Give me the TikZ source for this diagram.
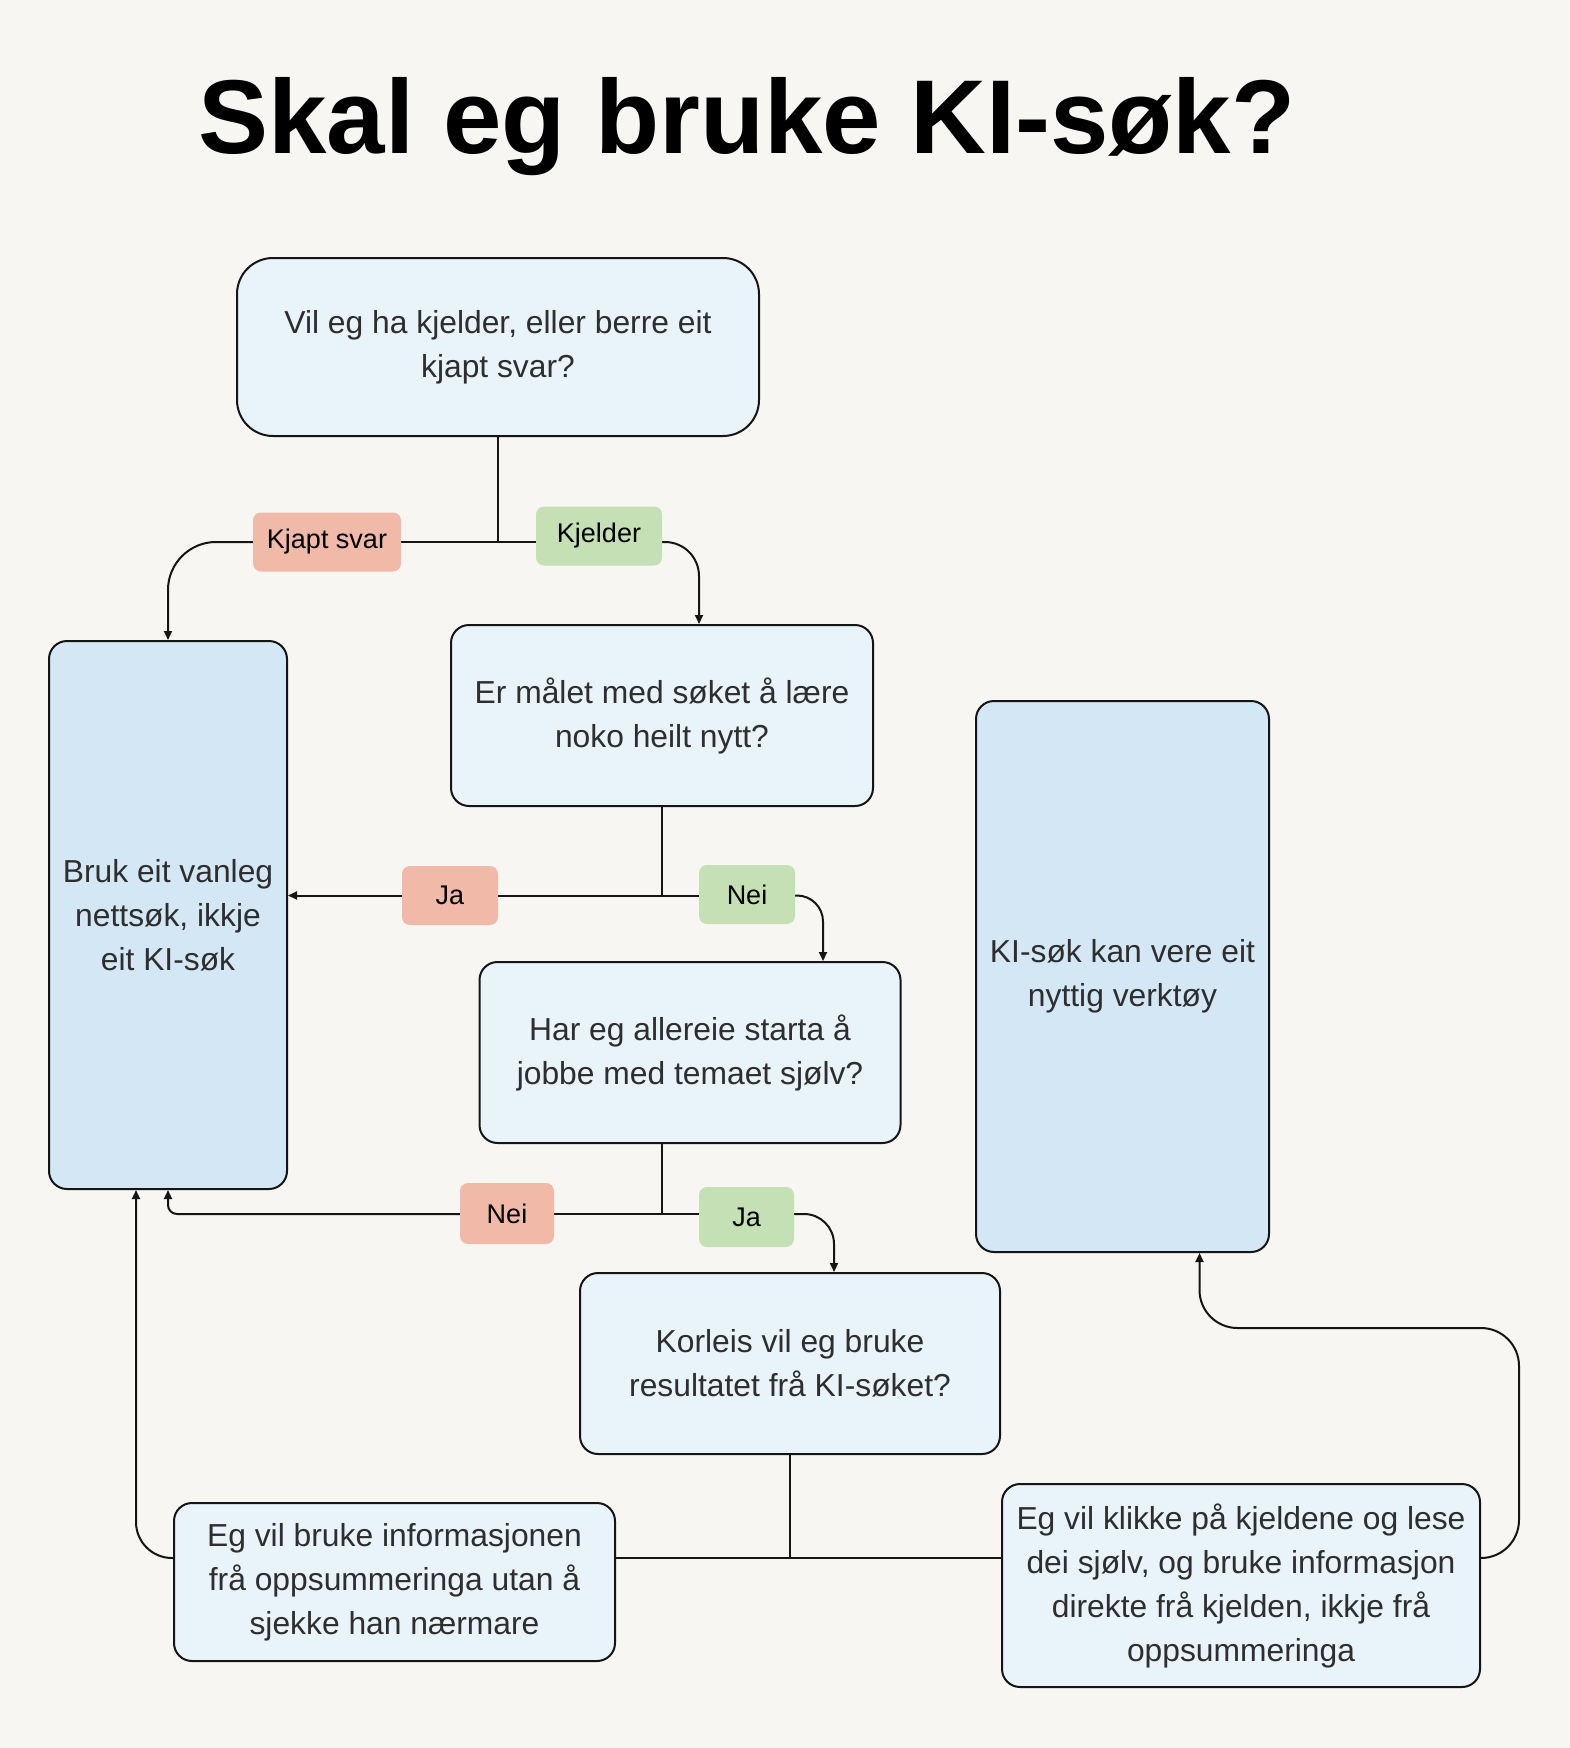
\documentclass[tikz,border=0pt]{standalone}
\usepackage{fontspec}
\setmainfont{Liberation Sans}
\usetikzlibrary{arrows.meta}
\definecolor{bgc}{HTML}{F7F6F2}
\definecolor{lightbox}{HTML}{E8F3FA}
\definecolor{darkbox}{HTML}{D3E7F5}
\definecolor{pinklbl}{HTML}{F0B9A8}
\definecolor{greenlbl}{HTML}{C5E0B4}
\definecolor{edgec}{HTML}{151515}
\definecolor{txtc}{HTML}{2E2E2E}
\pgfdeclarelayer{bglayer}
\pgfdeclarelayer{wires}
\pgfsetlayers{bglayer,wires,main}
\tikzset{
  qbox/.style={draw=edgec, line width=2pt, fill=lightbox, rounded corners=18pt,
    align=center, text=txtc, inner sep=0pt, font=\fontsize{31.8}{44}\selectfont},
  abox/.style={qbox, fill=darkbox},
  lbl/.style={rounded corners=8pt, inner sep=0pt, text=black,
    font=\fontsize{27}{30}\selectfont, minimum height=59pt},
  nolbl/.style={lbl, fill=pinklbl},
  yeslbl/.style={lbl, fill=greenlbl},
  wire/.style={draw=edgec, line width=2pt},
  arr/.style={wire, -{Triangle[length=9pt,width=8pt]}}
}
\begin{document}
\begin{tikzpicture}[x=1pt,y=-1pt]
\begin{pgfonlayer}{bglayer}
\fill[bgc] (0,0) rectangle (1570,1748);
\end{pgfonlayer}
\useasboundingbox (0,0) rectangle (1570,1748);

\node[anchor=base, font=\fontsize{105}{120}\selectfont\bfseries, text=black] (title) at (747,153) {Skal eg bruke KI-søk?};

\node[qbox, rounded corners=36pt, minimum width=522pt, minimum height=178pt] (A) at (498,347)
  {Vil eg ha kjelder, eller berre eit\\kjapt svar?};
\node[qbox, minimum width=422pt, minimum height=181pt] (B) at (662,715.5)
  {Er målet med søket å lære\\noko heilt nytt?};
\node[abox, minimum width=238pt, minimum height=548pt] (C) at (168,915)
  {Bruk eit vanleg\\nettsøk, ikkje\\eit KI-søk};
\node[qbox, minimum width=421pt, minimum height=181pt] (D) at (690,1052.5)
  {Har eg allereie starta å\\jobbe med temaet sjølv?};
\node[qbox, minimum width=420pt, minimum height=181pt] (F) at (790,1363.5)
  {Korleis vil eg bruke\\resultatet frå KI-søket?};
\node[qbox, minimum width=441pt, minimum height=158pt] (E) at (394.5,1582)
  {Eg vil bruke informasjonen\\frå oppsummeringa utan å\\sjekke han nærmare};
\node[qbox, minimum width=478pt, minimum height=203pt] (G) at (1241,1585.5)
  {Eg vil klikke på kjeldene og lese\\dei sjølv, og bruke informasjon\\direkte frå kjelden, ikkje frå\\oppsummeringa};
\node[abox, minimum width=293pt, minimum height=551pt] (H) at (1122.5,976.5)
  {KI-søk kan vere eit\\nyttig verktøy};

\node[nolbl, minimum width=148pt] (kjapt) at (327,542) {Kjapt svar};
\node[yeslbl, minimum width=126pt] (kjelder) at (599,536) {Kjelder};
\node[nolbl, minimum width=96pt] (ja1) at (450,895.5) {Ja};
\node[yeslbl, minimum width=96pt] (nei1) at (747,894.5) {Nei};
\node[nolbl, minimum width=94pt, minimum height=61pt] (nei2) at (507,1213.5) {Nei};
\node[yeslbl, minimum width=95pt, minimum height=60pt] (ja2) at (746.5,1217) {Ja};

\coordinate (j1) at (A.south |- kjapt.center);
\coordinate (j2) at (B.south |- ja1.center);
\coordinate (j3) at (662,1214);
\coordinate (j4) at (790,1558);
\coordinate (gR) at (1519,1328);

\begin{pgfonlayer}{wires}
% first question
\draw[wire] (A.south) -- (j1);
\draw[wire] (j1) -- (kjapt.east);
\draw[arr, rounded corners=48pt] (kjapt.west) -| (C.north);
\draw[wire] (j1) -- (kjelder.west |- j1);
\draw[arr, rounded corners=34pt] (kjelder.east |- j1) -| ([xshift=37pt]B.north);
% second question
\draw[wire] (B.south) -- (j2);
\draw[wire] (j2) -- (ja1.east);
\draw[arr] (ja1.west) -- (C.east |- ja1.west);
\draw[wire] (j2) -- (nei1.west |- j2);
\draw[arr, rounded corners=26pt] (nei1.east |- j2) -| ([xshift=133pt]D.north);
% third question
\draw[wire] (j3 |- D.south) -- (j3);
\draw[wire] (j3) -- (nei2.east |- j3);
\draw[arr, rounded corners=9pt] (nei2.west |- j3) -| (C.south);
\draw[wire] (j3) -- (ja2.west |- j3);
\draw[arr, rounded corners=30pt] (ja2.east |- j3) -| ([xshift=44pt]F.north);
% fourth question
\draw[wire] (F.south) -- (j4);
\draw[wire] (E.east |- j4) -- (G.west |- j4);
\draw[arr, rounded corners=36pt] (E.west |- j4) -| ([xshift=-32pt]C.south);
\draw[arr, rounded corners=38pt] (G.east |- j4) -| (gR) -| ([xshift=77pt]H.south);
\end{pgfonlayer}
\end{tikzpicture}
\end{document}
